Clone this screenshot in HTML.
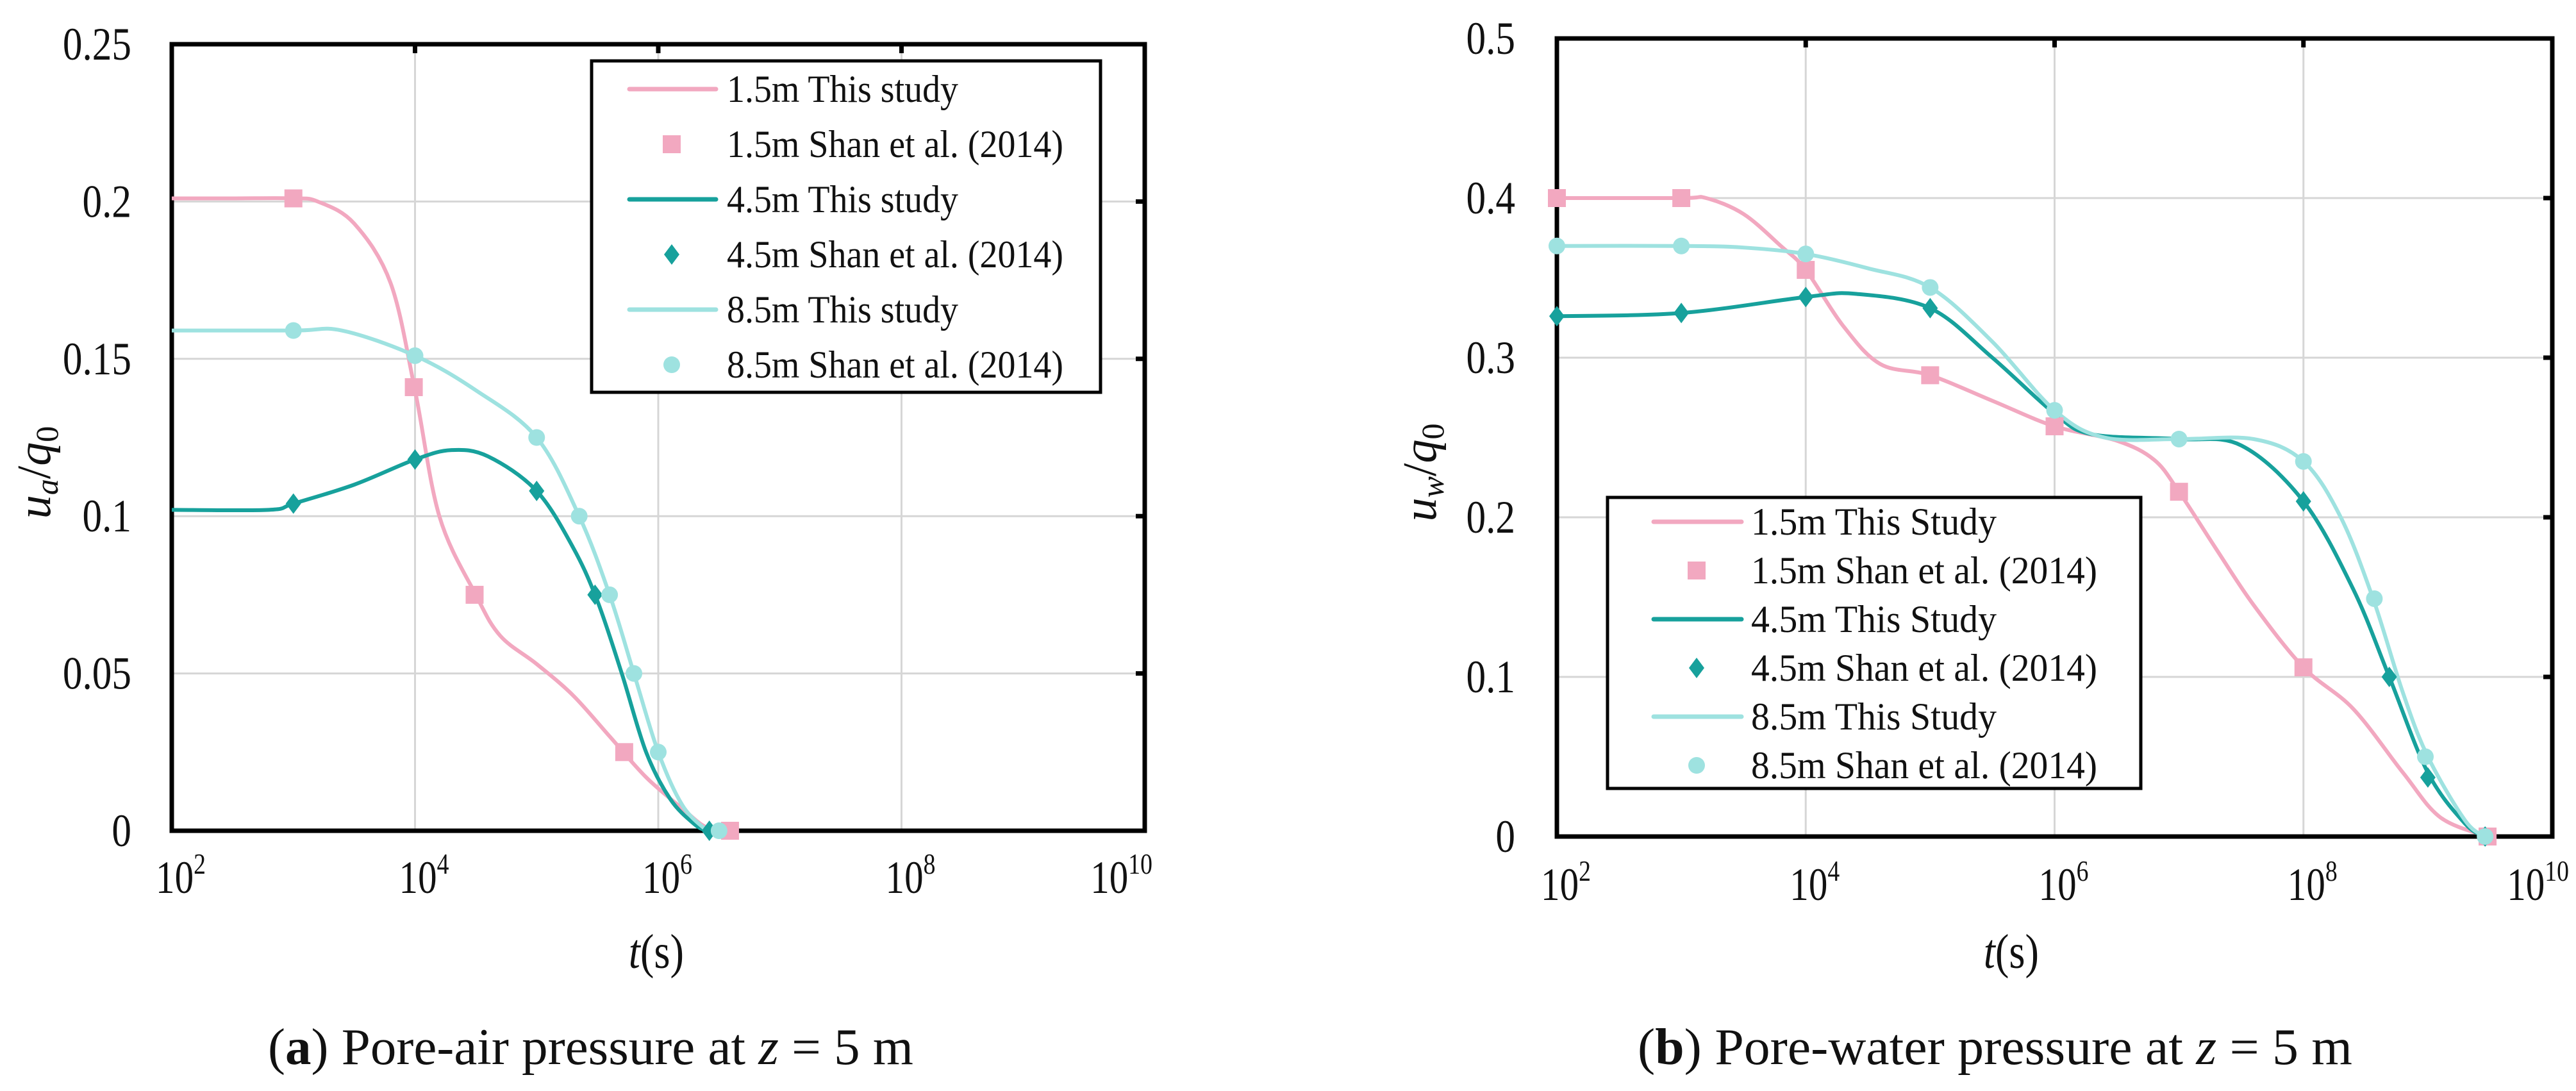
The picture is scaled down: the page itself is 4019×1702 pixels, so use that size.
<!DOCTYPE html>
<html><head><meta charset="utf-8"><style>
html,body{margin:0;padding:0;background:#fff}
svg{display:block}
text{font-family:"Liberation Serif",serif;fill:#111}
</style></head><body>
<svg id="fig" width="4019" height="1702" viewBox="0 0 4019 1702" xmlns="http://www.w3.org/2000/svg"></svg>
<script>
// ---------- Chart A data (log10 t, u_a/q0) ----------
const aLine15X=[2,2.5,3,3.2,3.5,3.8,4.0,4.2,4.5,4.7,5.0,5.3,5.6,5.9,6.2,6.4,6.6];
const aLine15Y=[0.201,0.201,0.201,0.2,0.193,0.174,0.14,0.1,0.075,0.062,0.053,0.043,0.03,0.017,0.007,0.001,0];
const aPts15X=[3,3.99,4.49,5.72,6.59];
const aPts15Y=[0.201,0.141,0.075,0.025,0];
const aLine45X=[2,2.8,3,3.5,4,4.3,4.6,5.0,5.3,5.5,5.7,5.9,6.1,6.3,6.4];
const aLine45Y=[0.102,0.102,0.104,0.11,0.118,0.121,0.119,0.108,0.09,0.073,0.05,0.025,0.01,0.002,0];
const aPts45X=[3,4,5,5.48,6.42];
const aPts45Y=[0.104,0.118,0.108,0.075,0];
const aLine85X=[2,3,3.4,4,4.5,5,5.35,5.6,5.8,6.0,6.2,6.4];
const aLine85Y=[0.159,0.159,0.159,0.151,0.14,0.125,0.1,0.075,0.05,0.025,0.008,0];
const aPts85X=[3,4,5,5.35,5.6,5.8,6.0,6.5];
const aPts85Y=[0.159,0.151,0.125,0.1,0.075,0.05,0.025,0];
const aYTicks=[0,0.05,0.1,0.15,0.2,0.25];
const aYTickLabels=["0","0.05","0.1","0.15","0.2","0.25"];
// ---------- Chart B data (log10 t, u_w/q0) ----------
const bLine15X=[2,3,3.2,3.5,3.8,4.0,4.3,4.6,5,5.5,6,6.5,6.8,7,7.3,7.6,8,8.4,8.8,9.1,9.48];
const bLine15Y=[0.4,0.4,0.4,0.39,0.37,0.355,0.32,0.296,0.289,0.273,0.257,0.248,0.236,0.216,0.18,0.145,0.106,0.08,0.04,0.012,0];
const bPts15X=[2,3,4,5,6,7,8,9.48];
const bPts15Y=[0.4,0.4,0.355,0.289,0.257,0.216,0.106,0];
const bLine45X=[2,3,4,4.4,5,5.5,6,6.3,7,7.5,8,8.4,8.69,9.0,9.3,9.46];
const bLine45Y=[0.326,0.328,0.338,0.34,0.331,0.3,0.265,0.252,0.249,0.245,0.21,0.155,0.1,0.04,0.008,0];
const bPts45X=[2,3,4,5,8,8.69,9.0,9.46];
const bPts45Y=[0.326,0.328,0.338,0.331,0.21,0.1,0.037,0];
const bLine85X=[2,3,3.5,4,4.5,5,5.5,6,6.4,7,7.6,8,8.3,8.56,8.8,9.0,9.3,9.46];
const bLine85Y=[0.37,0.37,0.369,0.365,0.356,0.344,0.31,0.267,0.25,0.249,0.249,0.235,0.2,0.149,0.09,0.05,0.01,0];
const bPts85X=[2,3,4,5,6,7,8,8.57,8.98,9.46];
const bPts85Y=[0.37,0.37,0.365,0.344,0.267,0.249,0.235,0.149,0.05,0];
const bYTicks=[0,0.1,0.2,0.3,0.4,0.5];
const bYTickLabels=["0","0.1","0.2","0.3","0.4","0.5"];
const xDecades=[2,4,6,8,10];
const xGridDecades=[4,6,8];

const NS="http://www.w3.org/2000/svg";
const svg=document.getElementById('fig');
const PINK="#f2a8c0",TEAL="#17a19c",CYAN="#9ee2e0";
function mk(tag,attrs,parent){const e=document.createElementNS(NS,tag);for(const k in attrs)e.setAttribute(k,attrs[k]);(parent||svg).appendChild(e);return e;}
function smooth(pts){let d="M"+pts[0][0]+","+pts[0][1];for(let i=0;i<pts.length-1;i++){const p0=pts[Math.max(0,i-1)],p1=pts[i],p2=pts[i+1],p3=pts[Math.min(pts.length-1,i+2)];const c1x=p1[0]+(p2[0]-p0[0])/6,c1y=p1[1]+(p2[1]-p0[1])/6,c2x=p2[0]-(p3[0]-p1[0])/6,c2y=p2[1]-(p3[1]-p1[1])/6;d+=" C"+c1x+","+c1y+" "+c2x+","+c2y+" "+p2[0]+","+p2[1];}return d;}
function cond(t,f){try{const w=t.getComputedTextLength();t.setAttribute('textLength',w*f);t.setAttribute('lengthAdjust','spacingAndGlyphs');}catch(e){}}

function chart(o){
  const g=mk('g',{});
  
  
  const sx=v=>o.L+(v-2)/8*(o.R-o.L);
  const sy=v=>o.B-(v/o.ymax)*(o.B-o.T);
  xGridDecades.forEach(d=>{const l=mk('line',{x1:sx(d),x2:sx(d),y1:o.T,y2:o.B,stroke:"#d6d6d6","stroke-width":3},g);});
  o.yt.forEach(v=>{if(v>0&&v<o.ymax){const l=mk('line',{x1:o.L,x2:o.R,y1:sy(v),y2:sy(v),stroke:"#d6d6d6","stroke-width":3},g);}});
  const fr=mk('rect',{x:o.L,y:o.T,width:o.R-o.L,height:o.B-o.T,fill:"none",stroke:"#000","stroke-width":7},g);
  
  xGridDecades.forEach(d=>{mk('line',{x1:sx(d),x2:sx(d),y1:o.T,y2:o.T+14,stroke:"#000","stroke-width":7},g);});
  o.yt.forEach(v=>{if(v>0&&v<o.ymax)mk('line',{x1:o.R-14,x2:o.R,y1:sy(v),y2:sy(v),stroke:"#000","stroke-width":7},g);});
  o.yt.forEach((v,i)=>{const t=mk('text',{x:o.ylx,y:sy(v)+24,"text-anchor":"end","font-size":72},g);t.textContent=o.ytl[i];cond(t,0.85);});
  xDecades.forEach(d=>{const last=(d===10);const t=mk('text',{x:last?o.R+o.lastOff:sx(d)+14,y:o.xly,"text-anchor":last?"end":"middle","font-size":72},g);const a=mk('tspan',{},t);a.textContent="10";const b=mk('tspan',{dy:-30,"font-size":46},t);b.textContent=String(d);cond(t,0.82);});
  const xt=mk('text',{x:o.xtx,y:o.xty,"text-anchor":"middle","font-size":76},g);
  
  const i1=mk('tspan',{"font-style":"italic"},xt);i1.textContent="t";const i2=mk('tspan',{},xt);i2.textContent="(s)";cond(xt,0.85);
  const yt=mk('text',{x:0,y:0,"text-anchor":"middle","font-size":74,transform:`translate(${o.ytx},${o.yty}) rotate(-90)`},g);
  
  const u=mk('tspan',{"font-style":"italic"},yt);u.textContent="u";
  const us=mk('tspan',{"font-style":"italic","font-size":50,dy:12},yt);us.textContent=o.sub;
  const sl=mk('tspan',{dy:-12},yt);sl.textContent="/";
  const q=mk('tspan',{"font-style":"italic"},yt);q.textContent="q";
  const qs=mk('tspan',{"font-size":50,dy:12},yt);qs.textContent="0";
  o.series.forEach(s=>{
    const p=mk('path',{d:smooth(s.lx.map((x,i)=>[sx(x),sy(s.ly[i])])),fill:"none",stroke:s.c,"stroke-width":6,"stroke-linejoin":"round"},g);
    
  });
  o.series.forEach(s=>{
    s.px.forEach((x,i)=>{const cx=sx(x),cy=sy(s.py[i]);let m;
      if(s.m==='sq')m=mk('rect',{x:cx-14,y:cy-14,width:28,height:28,fill:s.c},g);
      else if(s.m==='di')m=mk('polygon',{points:`${cx},${cy-16} ${cx+12},${cy} ${cx},${cy+16} ${cx-12},${cy}`,fill:s.c},g);
      else m=mk('circle',{cx:cx,cy:cy,r:13,fill:s.c},g);
      });
  });
  const lg=mk('g',{},g);
  const lb=mk('rect',{x:o.lg.x,y:o.lg.y,width:o.lg.w,height:o.lg.h,fill:"#fff",stroke:"#000","stroke-width":5},lg);
  
  o.lg.items.forEach((it,i)=>{const cy=o.lg.r0+i*o.lg.dy;
    const e=mk('g',{},lg);
    if(it.t==='l')mk('line',{x1:o.lg.lx1,x2:o.lg.lx2,y1:cy,y2:cy,stroke:it.c,"stroke-width":7,"stroke-linecap":"round"},e);
    else{const cx=o.lg.mx;if(it.t==='sq')mk('rect',{x:cx-14,y:cy-14,width:28,height:28,fill:it.c},e);else if(it.t==='di')mk('polygon',{points:`${cx},${cy-16} ${cx+12},${cy} ${cx},${cy+16} ${cx-12},${cy}`,fill:it.c},e);else mk('circle',{cx:cx,cy:cy,r:13,fill:it.c},e);}
    const t=mk('text',{x:o.lg.tx,y:cy+20,"font-size":60},e);t.textContent=it.s;
    t.setAttribute('textLength',it.s.indexOf('Shan')>=0?o.lg.wl:o.lg.ws);t.setAttribute('lengthAdjust','spacingAndGlyphs');
  });
  const c=mk('text',{x:o.cap.x,y:1660,"font-size":80,textLength:o.cap.w,lengthAdjust:"spacingAndGlyphs"},g);
  
  const c1=mk('tspan',{},c);c1.textContent="(";const c2=mk('tspan',{"font-weight":"bold"},c);c2.textContent=o.cap.l;
  const c3=mk('tspan',{},c);c3.textContent=") "+o.cap.t+" at ";const c4=mk('tspan',{"font-style":"italic"},c);c4.textContent="z";
  const c5=mk('tspan',{},c);c5.textContent=" = 5 m";
}
chart({name:'chart-pore-air',L:268,R:1786,T:69,B:1296,ymax:0.25,yt:aYTicks,ytl:aYTickLabels,ylx:205,xly:1393,xtx:1024,xty:1510,ytx:78,yty:737,sub:"a",lastOff:12,
  series:[{id:'air-1-5m',c:PINK,m:'sq',lx:aLine15X,ly:aLine15Y,px:aPts15X,py:aPts15Y},
          {id:'air-4-5m',c:TEAL,m:'di',lx:aLine45X,ly:aLine45Y,px:aPts45X,py:aPts45Y},
          {id:'air-8-5m',c:CYAN,m:'ci',lx:aLine85X,ly:aLine85Y,px:aPts85X,py:aPts85Y}],
  lg:{x:923,y:95,w:794,h:517,r0:139,dy:86,lx1:982,lx2:1117,mx:1048,tx:1134,wl:525,ws:361,
    items:[{t:'l',c:PINK,s:"1.5m This study"},{t:'sq',c:PINK,s:"1.5m Shan et al. (2014)"},{t:'l',c:TEAL,s:"4.5m This study"},{t:'di',c:TEAL,s:"4.5m Shan et al. (2014)"},{t:'l',c:CYAN,s:"8.5m This study"},{t:'ci',c:CYAN,s:"8.5m Shan et al. (2014)"}]},
  cap:{x:418,w:1007,l:"a",t:"Pore-air pressure"}});
chart({name:'chart-pore-water',L:2429,R:3982,T:60,B:1305,ymax:0.5,yt:bYTicks,ytl:bYTickLabels,ylx:2364,xly:1404,xtx:3138,xty:1510,ytx:2240,yty:737,sub:"w",lastOff:26,
  series:[{id:'water-1-5m',c:PINK,m:'sq',lx:bLine15X,ly:bLine15Y,px:bPts15X,py:bPts15Y},
          {id:'water-4-5m',c:TEAL,m:'di',lx:bLine45X,ly:bLine45Y,px:bPts45X,py:bPts45Y},
          {id:'water-8-5m',c:CYAN,m:'ci',lx:bLine85X,ly:bLine85Y,px:bPts85X,py:bPts85Y}],
  lg:{x:2508,y:776,w:832,h:454,r0:814,dy:76,lx1:2580,lx2:2717,mx:2647,tx:2732,wl:540,ws:383,
    items:[{t:'l',c:PINK,s:"1.5m This Study"},{t:'sq',c:PINK,s:"1.5m Shan et al. (2014)"},{t:'l',c:TEAL,s:"4.5m This Study"},{t:'di',c:TEAL,s:"4.5m Shan et al. (2014)"},{t:'l',c:CYAN,s:"8.5m This Study"},{t:'ci',c:CYAN,s:"8.5m Shan et al. (2014)"}]},
  cap:{x:2555,w:1115,l:"b",t:"Pore-water pressure"}});
</script>
</body></html>
